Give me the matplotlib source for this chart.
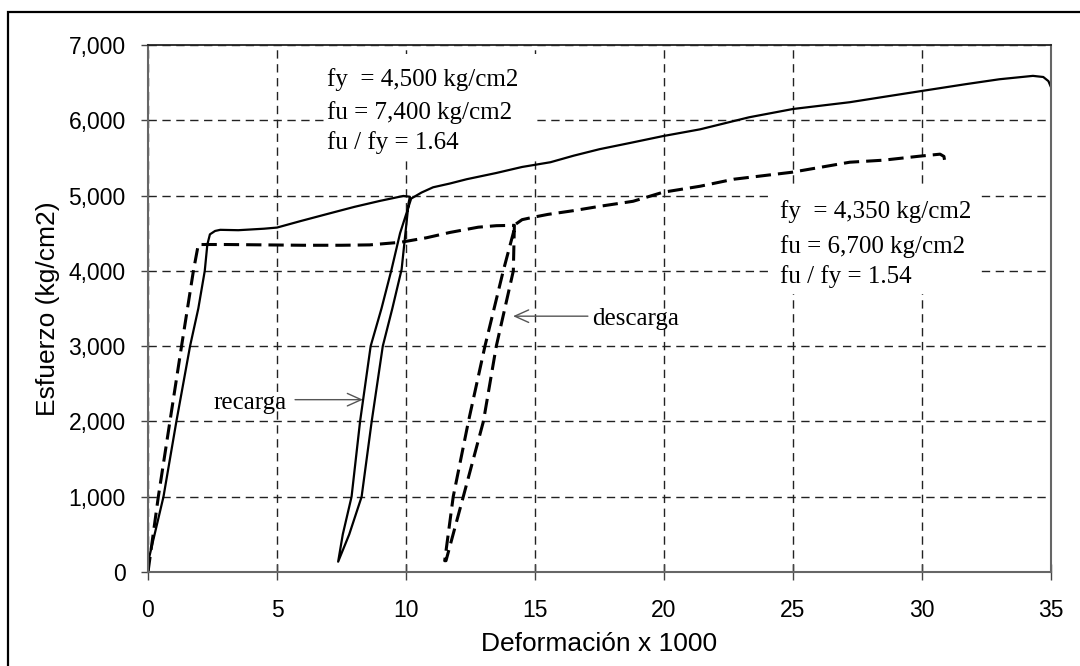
import matplotlib
matplotlib.use("Agg")
import matplotlib.pyplot as plt
from matplotlib.patches import Rectangle
from matplotlib.ticker import FuncFormatter

# ---- data ----
# specimen 1 (solid): fy = 4,500 ; loading, unloading (descarga) and reloading (recarga)
solid_x = [0.0, 0.05, 0.6, 1.1, 1.63, 1.95, 2.2, 2.3, 2.4, 2.6, 2.8, 3.5, 4.5, 5.0, 5.9, 7.0, 8.0, 9.0,
           9.9, 10.15,
           10.1, 9.83, 9.47, 9.1, 8.67, 8.28, 7.8, 7.37,
           7.55, 7.89, 8.22, 8.63, 9.05, 9.44, 9.77, 10.2,
           10.6, 11.05, 11.7, 12.35, 13.5, 14.5, 15.6, 16.5, 17.5, 18.7, 19.96, 21.4, 23.3,
           25.0, 27.2, 28.5, 30.0, 31.7, 33.0, 34.3, 34.7, 34.9, 35.0]
solid_y = [0, 200, 1000, 2000, 3000, 3500, 4000, 4350, 4485, 4530, 4545, 4540, 4560, 4575, 4660, 4760, 4850,
           4930, 4995, 4985,
           4900, 4019, 3500, 3000, 2000, 1000, 500, 137,
           500, 1000, 2000, 3000, 3500, 4019, 4500, 4960,
           5040, 5110, 5160, 5217, 5300, 5380, 5443, 5530, 5616, 5700, 5790, 5880, 6040,
           6150, 6240, 6310, 6390, 6480, 6545, 6590, 6575, 6520, 6440]

# specimen 2 (dashed): fy = 4,350
dash_x = [0.0, 0.4, 0.85, 1.3, 1.76, 1.95, 3.0, 4.5, 6.0, 7.5, 8.6, 9.8, 10.8, 11.7, 12.8, 13.5, 14.2,
          14.16, 13.5, 13.0, 12.22, 11.55,
          11.5, 11.83, 12.42, 13.06, 13.77, 14.25,
          14.5, 14.9, 15.5, 16.5, 17.5, 18.8, 19.96, 21.4, 22.7, 24.96, 27.2, 28.5, 29.9, 30.7, 30.85, 30.9]
dash_y = [0, 1000, 2000, 3000, 4000, 4350, 4350, 4345, 4340, 4340, 4345, 4380, 4440, 4510, 4580, 4600, 4605,
          4000, 3000, 2000, 1000, 150,
          150, 1000, 2000, 3000, 4000, 4620,
          4680, 4710, 4750, 4800, 4857, 4924, 5044, 5124, 5217, 5310, 5443, 5470, 5523, 5550, 5520, 5417]

x_ticks = [0, 5, 10, 15, 20, 25, 30, 35]
y_ticks = [0, 1000, 2000, 3000, 4000, 5000, 6000, 7000]

note1 = ["fy  = 4,500 kg/cm2", "fu = 7,400 kg/cm2", "fu / fy = 1.64"]
note2 = ["fy  = 4,350 kg/cm2", "fu = 6,700 kg/cm2", "fu / fy = 1.54"]

# ---- figure ----
fig = plt.figure(figsize=(10.8, 6.66), dpi=100)
ax = fig.add_axes([148/1080, 1-572/666, (1051-148)/1080, (572-45)/666])

ax.plot(solid_x, solid_y, color="black", lw=1.6, solid_joinstyle="round", zorder=2)
ax.plot(dash_x, dash_y, color="black", lw=2.2, dashes=(5, 2.3), zorder=2)

ax.set_xlim(0, 35)
ax.set_ylim(0, 7000)
ax.set_xticks(x_ticks)
ax.set_yticks(y_ticks)
ax.yaxis.set_major_formatter(FuncFormatter(lambda v, p: f"{int(v):,}"))

ax.grid(True, color="#222222", lw=1.0, dashes=(6, 4))
ax.set_axisbelow(True)

for s in ["left", "bottom", "right"]:
    ax.spines[s].set_color("#666666")
    ax.spines[s].set_linewidth(1.5)
ax.spines["top"].set_color("#222222")
ax.spines["top"].set_linewidth(1.3)

sans = ["Liberation Sans", "DejaVu Sans"]
serif = ["Liberation Serif", "DejaVu Serif"]
ax.tick_params(axis="y", direction="out", length=5, width=1, color="#444444", pad=11, labelsize=16.5)
ax.tick_params(axis="x", direction="inout", length=11, width=1, color="#444444", pad=14, labelsize=16.5)
for lab in ax.get_xticklabels() + ax.get_yticklabels():
    lab.set_family(sans)

ax.set_xlabel("Deformación x 1000", family=sans, fontsize=19, labelpad=7)
ax.set_ylabel("Esfuerzo (kg/cm2)", family=sans, fontsize=19, labelpad=6)

# white boxes behind the annotation blocks (hide the grid there)
ax.add_patch(Rectangle((6.86, 5457), 15.08 - 6.86, 6881 - 5457, facecolor="white",
                       edgecolor="none", zorder=1))
ax.add_patch(Rectangle((24.19, 3686), 32.25 - 24.19, 5084 - 3686, facecolor="white",
                       edgecolor="none", zorder=1))

# annotation blocks
for t, yv in zip(note1, [6455, 6016, 5617]):
    ax.text(6.94, yv, t, family=serif, fontsize=18, va="baseline", ha="left", zorder=3)
for t, yv in zip(note2, [4707, 4241, 3842]):
    ax.text(24.5, yv, t, family=serif, fontsize=18, va="baseline", ha="left", zorder=3)

arrowprops = dict(arrowstyle="->,head_length=1.0,head_width=0.45", color="#555555", lw=1.0,
                  shrinkA=0, shrinkB=0)
ax.text(2.52, 2169, "recarga", family=serif, fontsize=18, va="baseline", ha="left", zorder=3)
ax.annotate("", xy=(8.33, 2289), xytext=(5.70, 2289), arrowprops=arrowprops)
ax.text(17.2, 3287, "descarga", family=serif, fontsize=18, va="baseline", ha="left", zorder=3)
ax.annotate("", xy=(14.15, 3398), xytext=(17.05, 3398), arrowprops=arrowprops)

# outer frame
fig.patches.append(Rectangle((8/1080, -0.1), 1.2, (1-12/666) + 0.1, transform=fig.transFigure,
                             fill=False, ec="black", lw=1.6))

fig.savefig("out.png", dpi=100)
